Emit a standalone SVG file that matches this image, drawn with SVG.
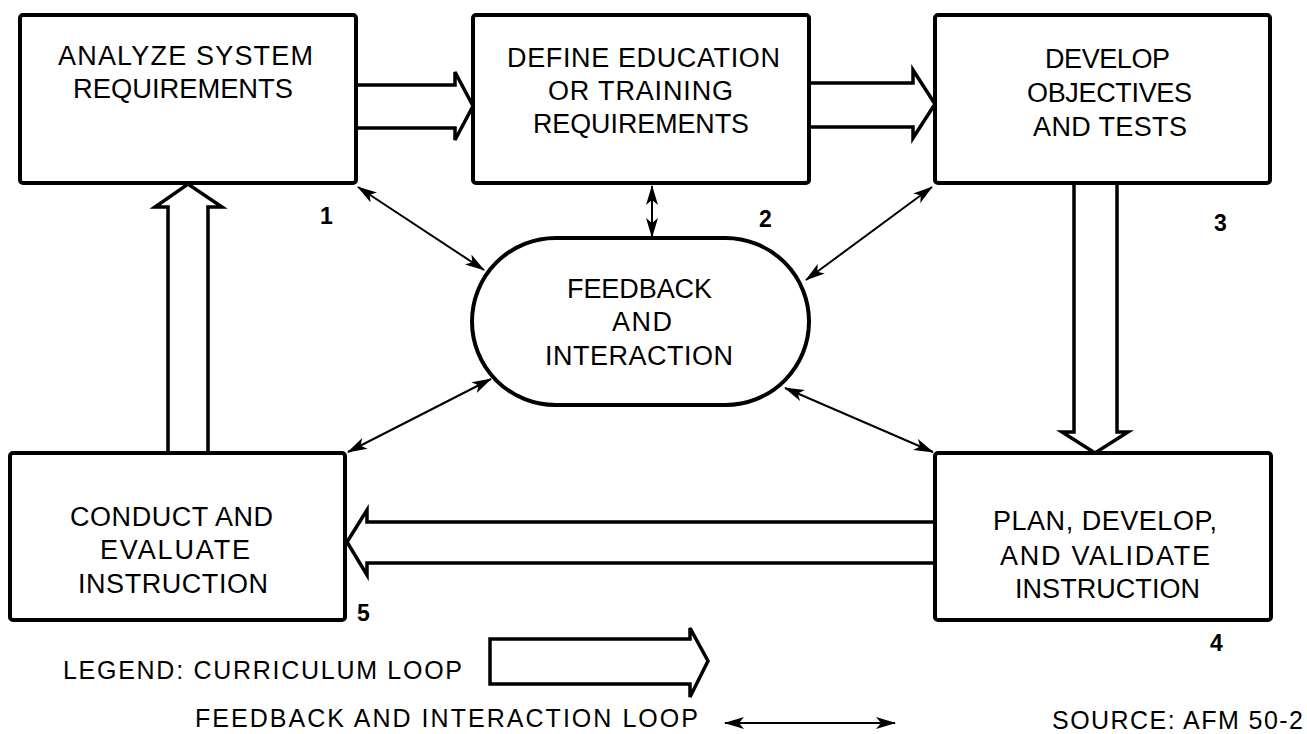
<svg xmlns="http://www.w3.org/2000/svg" width="1307" height="734" viewBox="0 0 1307 734">
  <style>
    .box { fill: #fff; stroke: #000; stroke-width: 4; }
    .loop { fill: none; stroke: #000; stroke-width: 3.5; stroke-linejoin: miter; }
    .fb { fill: none; stroke: #000; stroke-width: 2; marker-start: url(#head); marker-end: url(#head); }
    .lbl { font-family: "Liberation Sans", Arial, sans-serif; font-size: 27px; fill: #000; text-anchor: middle; }
    .num { font-family: "Liberation Sans", Arial, sans-serif; font-size: 23px; font-weight: bold; fill: #000; }
    .leg { font-family: "Liberation Sans", Arial, sans-serif; font-size: 25px; fill: #000; }
  </style>
  <defs>
    <marker id="head" markerUnits="userSpaceOnUse" markerWidth="20" markerHeight="12" refX="19" refY="6" orient="auto-start-reverse">
      <path d="M0,0 L20,6 L0,12 L5,6 Z" fill="#000"/>
    </marker>
  </defs>
  <rect width="1307" height="734" fill="#fff"/>

  <!-- curriculum loop (hollow double-line arrows) and feedback links -->
  <g id="connectors">
    <path class="loop" d="M356,85 H455 V72 L473,106 L455,140 V128 H356"/>
    <path class="loop" d="M809,83 H913 V70 L935,104 L913,138 V127 H809"/>
    <path class="loop" d="M1074,183 V432 H1062 L1095,453 L1128,432 H1117 V183"/>
    <path class="loop" d="M935,522 H367 V510 L347,542 L367,575 V563 H935"/>
    <path class="loop" d="M168,453 V207 H155 L188,184 L222,207 H208 V453"/>

    <line class="fb" x1="358" y1="187" x2="484" y2="270"/>
    <line class="fb" x1="652" y1="186" x2="652" y2="237"/>
    <line class="fb" x1="932" y1="187" x2="806" y2="280"/>
    <line class="fb" x1="348" y1="452" x2="491" y2="379"/>
    <line class="fb" x1="933" y1="452" x2="785" y2="388"/>
  </g>

  <g id="node1">
    <rect class="box" x="20" y="15" width="336" height="168" rx="3"/>
    <text class="lbl" x="185.5" y="65" textLength="255" lengthAdjust="spacing">ANALYZE SYSTEM</text>
    <text class="lbl" x="183" y="98" textLength="220" lengthAdjust="spacingAndGlyphs">REQUIREMENTS</text>
    <text class="num" x="320" y="224">1</text>
  </g>

  <g id="node2">
    <rect class="box" x="473" y="15" width="336" height="168" rx="3"/>
    <text class="lbl" x="643.5" y="67" textLength="273" lengthAdjust="spacing">DEFINE EDUCATION</text>
    <text class="lbl" x="640.5" y="100" textLength="185" lengthAdjust="spacing">OR TRAINING</text>
    <text class="lbl" x="641" y="133" textLength="216" lengthAdjust="spacingAndGlyphs">REQUIREMENTS</text>
    <text class="num" x="759" y="227">2</text>
  </g>

  <g id="node3">
    <rect class="box" x="935" y="15" width="335" height="168" rx="3"/>
    <text class="lbl" x="1107.5" y="68" textLength="125" lengthAdjust="spacing">DEVELOP</text>
    <text class="lbl" x="1109.5" y="102" textLength="165" lengthAdjust="spacing">OBJECTIVES</text>
    <text class="lbl" x="1110" y="136" textLength="154" lengthAdjust="spacing">AND TESTS</text>
    <text class="num" x="1214" y="231">3</text>
  </g>

  <g id="node-feedback">
    <rect class="box" x="472" y="238" width="337" height="167" rx="83.5"/>
    <text class="lbl" x="639.5" y="298" textLength="145" lengthAdjust="spacing">FEEDBACK</text>
    <text class="lbl" x="642" y="331" textLength="60" lengthAdjust="spacing">AND</text>
    <text class="lbl" x="639" y="365" textLength="188" lengthAdjust="spacing">INTERACTION</text>
  </g>

  <g id="node4">
    <rect class="box" x="935" y="453" width="336" height="167" rx="3"/>
    <text class="lbl" x="1105" y="530" textLength="224" lengthAdjust="spacing">PLAN, DEVELOP,</text>
    <text class="lbl" x="1105" y="565" textLength="210" lengthAdjust="spacing">AND VALIDATE</text>
    <text class="lbl" x="1107.5" y="598" textLength="185" lengthAdjust="spacing">INSTRUCTION</text>
    <text class="num" x="1210" y="651">4</text>
  </g>

  <g id="node5">
    <rect class="box" x="10" y="453" width="335" height="167" rx="3"/>
    <text class="lbl" x="171.5" y="526" textLength="203" lengthAdjust="spacing">CONDUCT AND</text>
    <text class="lbl" x="175" y="559" textLength="150" lengthAdjust="spacing">EVALUATE</text>
    <text class="lbl" x="173" y="593" textLength="190" lengthAdjust="spacing">INSTRUCTION</text>
    <text class="num" x="357" y="621">5</text>
  </g>

  <g id="legend">
    <text class="leg" x="63" y="679" textLength="399" lengthAdjust="spacing">LEGEND: CURRICULUM LOOP</text>
    <path class="loop" d="M490,639 H690 V628 L708,661 L690,697 V684 H490 Z"/>
    <text class="leg" x="195" y="727" textLength="503" lengthAdjust="spacing">FEEDBACK AND INTERACTION LOOP</text>
    <line class="fb" x1="725" y1="723" x2="895" y2="723"/>
    <text class="leg" x="1052" y="729" textLength="251" lengthAdjust="spacing">SOURCE: AFM 50-2</text>
  </g>
</svg>
